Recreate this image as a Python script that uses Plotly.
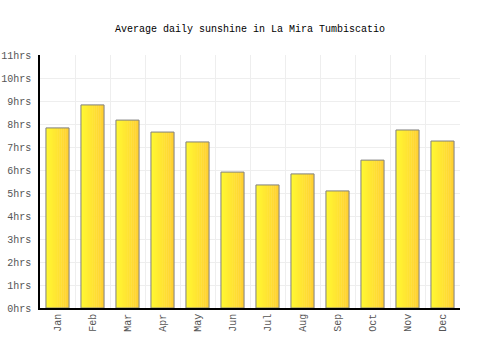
import plotly.graph_objects as go

months = ["Jan", "Feb", "Mar", "Apr", "May", "Jun", "Jul", "Aug", "Sep", "Oct", "Nov", "Dec"]
sunshine = [7.83, 8.83, 8.17, 7.65, 7.22, 5.91, 5.35, 5.83, 5.09, 6.43, 7.74, 7.26]
y_ticks = list(range(0, 12))
y_labels = [f"{v}hrs" for v in y_ticks]

xs = list(range(len(months)))
bar_w = 0.66
n_slices = 12
c0 = (255, 247, 50)
c1 = (255, 208, 50)

fig = go.Figure()
for i in range(n_slices):
    t = i / (n_slices - 1)
    col = tuple(round(a + (b - a) * t) for a, b in zip(c0, c1))
    w = bar_w / n_slices
    extra = 0.012 if i < n_slices - 1 else 0
    fig.add_trace(go.Bar(
        x=xs, y=sunshine,
        width=w + extra,
        offset=-bar_w / 2 + i * w,
        marker=dict(color=f"rgb{col}", line=dict(width=0)),
        hoverinfo="skip", showlegend=False,
    ))
fig.add_trace(go.Bar(
    x=xs, y=sunshine, width=bar_w, offset=-bar_w / 2,
    marker=dict(color="rgba(0,0,0,0)", line=dict(color="#808080", width=1)),
    showlegend=False, name="Sunshine",
))

fig.update_layout(
    width=500, height=350,
    margin=dict(l=40, r=40, t=55, b=42),
    barmode="overlay",
    plot_bgcolor="white", paper_bgcolor="white",
    font=dict(family="Liberation Mono", size=10, color="#555555"),
    title=dict(text="Average daily sunshine in La Mira Tumbiscatio", x=0.5, xanchor="center",
               y=0.92, yanchor="middle", font=dict(size=10, color="#000000")),
    xaxis=dict(
        range=[-0.5, 11.5], tickvals=xs, ticktext=months, tickangle=-90,
        showgrid=False, showline=True, linecolor="#000000", linewidth=1.5,
        ticks="", zeroline=False, automargin=False,
        minor=dict(tick0=0.5, dtick=1, showgrid=True, gridcolor="#eeeeee", gridwidth=1, ticks=""),
    ),
    yaxis=dict(
        range=[0, 11], tickvals=y_ticks, ticktext=y_labels,
        showgrid=True, gridcolor="#eeeeee", gridwidth=1, automargin=False,
        showline=True, linecolor="#000000", linewidth=1.5, ticks="", zeroline=False,
        ticklabelstandoff=5,
    ),
)

fig.write_html("out.html")
